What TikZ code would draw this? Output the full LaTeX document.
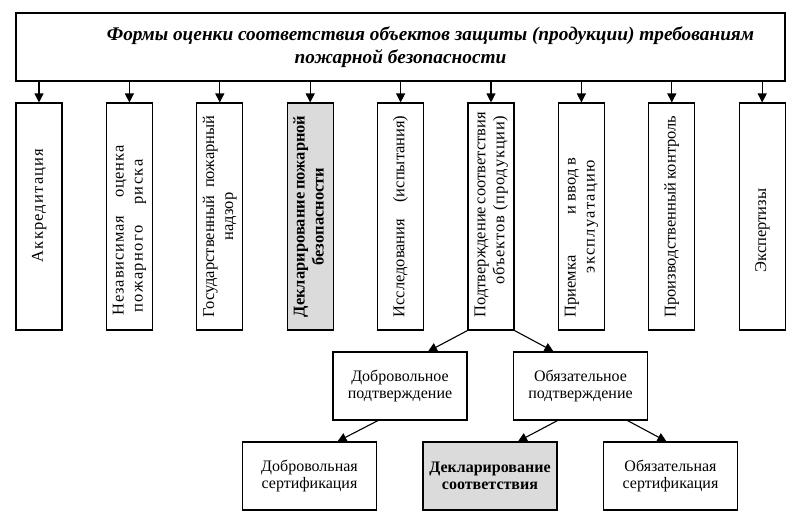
\documentclass[tikz,border=0pt]{standalone}
\usepackage{fontspec}
\setmainfont{Liberation Serif}
\usetikzlibrary{arrows.meta}

\tikzset{
  >={Triangle[width=9pt,length=9pt]},
  titlebox/.style={draw, minimum width=769pt, minimum height=68pt, align=center,
    font=\fontsize{19.3}{23}\selectfont\bfseries\itshape},
  vbox/.style={draw, fill=white, minimum width=46pt, minimum height=227pt, inner sep=0pt,
    font=\fontsize{16.5}{19}\selectfont},
  hbox/.style={draw, fill=white, minimum width=134pt, minimum height=68pt, align=center,
    font=\fontsize{16}{17.5}\selectfont},
  shaded/.style={fill=black!14},
}
% rotated text, one line per \fline
\newcommand{\uptext}[1]{\rotatebox{90}{\begin{tabular}{@{}l@{}}#1\end{tabular}}}
\newcommand{\fline}[2][c]{\makebox[202pt][#1]{#2}}
\newcommand{\spaced}[2]{{\addfontfeature{LetterSpace=#1}#2}}

\begin{document}
\begin{tikzpicture}[x=1pt, y=-1pt, line width=1.1pt]
\useasboundingbox (0,0) rectangle (800,522);

% top
\node (title) [titlebox] at (400.5, 47) {\hspace*{60pt}Формы оценки соответствия объектов защиты (продукции) требованиям\\пожарной безопасности};

% forms
\node (v1) [vbox] at (39, 216.5) {\uptext{\fline{\hspace*{22pt}\spaced{7}{Аккредитация}}}};
\node (v2) [vbox] at (129.4, 216.5) {\uptext{\fline[l]{\hspace*{2pt}\makebox[170pt][s]{\spaced{5}{Независимая} \spaced{5}{оценка}}}\\
  \fline[l]{\hspace*{5pt}\makebox[153pt][s]{\spaced{9}{пожарного} \spaced{9}{риска}}}}};
\node (v3) [vbox] at (219.8, 216.5) {\uptext{\fline[s]{Государственный пожарный}\\\fline{надзор}}};
\node (v4) [vbox, shaded] at (310.2, 216.5) {\uptext{\bfseries\fline[s]{Декларирование пожарной}\\\bfseries\fline{безопасности}}};
\node (v5) [vbox] at (400.6, 216.5) {\uptext{\fline[s]{Исследования (испытания)}}};
\node (v6) [vbox] at (491, 216.5) {\uptext{\fline[s]{Подтверждение соответствия}\\\fline[r]{\spaced{5}{объектов (продукции)}}}};
\node (v7) [vbox] at (581.4, 216.5) {\uptext{\fline[l]{\makebox[160pt][s]{Приемка\hfill\ и ввод в}}\\\fline{\spaced{8}{эксплуатацию}}}};
\node (v8) [vbox] at (671.8, 216.5) {\uptext{\fline[s]{Производственный контроль}}};
\node (v9) [vbox] at (762.2, 216.5) {\uptext{\fline{Экспертизы\hspace*{28pt}}}};

\draw (v1.north |- title.south) edge[->] (v1.north);
\draw (v2.north |- title.south) edge[->] (v2.north);
\draw (v3.north |- title.south) edge[->] (v3.north);
\draw (v4.north |- title.south) edge[->] (v4.north);
\draw (v5.north |- title.south) edge[->] (v5.north);
\draw (v6.north |- title.south) edge[->] (v6.north);
\draw (v7.north |- title.south) edge[->] (v7.north);
\draw (v8.north |- title.south) edge[->] (v8.north);
\draw (v9.north |- title.south) edge[->] (v9.north);

% confirmation
\node (dobr) [hbox] at (400, 386) {Добровольное\\подтверждение};
\node (obyaz) [hbox] at (580.5, 386) {Обязательное\\подтверждение};

\node (dobrcert) [hbox] at (309.5, 476) {Добровольная\\сертификация};
\node (declcert) [hbox, shaded, font=\fontsize{16}{17.5}\selectfont\bfseries] at (490, 476) {Декларирование\\соответствия};
\node (obcert) [hbox] at (670.5, 476) {Обязательная\\сертификация};

\draw (v6.south west) edge[->] ([xshift=28pt]dobr.north);
\draw (v6.south east) edge[->] ([xshift=-27pt]obyaz.north);
\draw ([xshift=-22pt]dobr.south) edge[->] ([xshift=28pt]dobrcert.north);
\draw ([xshift=-23pt]obyaz.south) edge[->] ([xshift=28pt]declcert.north);
\draw ([xshift=47pt]obyaz.south) edge[->] ([xshift=-4pt]obcert.north);
\end{tikzpicture}
\end{document}
